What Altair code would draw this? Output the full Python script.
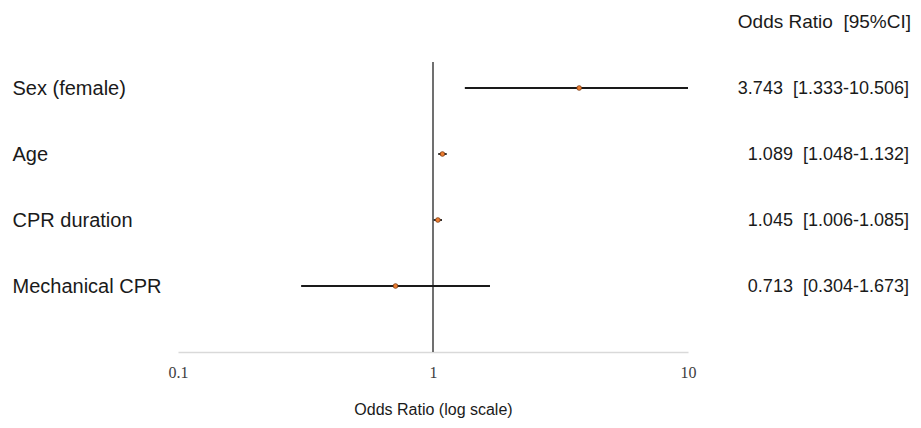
import altair as alt
import pandas as pd

labels = ["Sex (female)", "Age", "CPR duration", "Mechanical CPR"]
odds = [3.743, 1.089, 1.045, 0.713]
lower = [1.333, 1.048, 1.006, 0.304]
upper = [10.506, 1.132, 1.085, 1.673]
header_text = "Odds Ratio\u00a0\u00a0[95%CI]"
x_ticks = [0.1, 1, 10]
x_title = "Odds Ratio (log scale)"

row_domain = ["__hdr"] + labels + ["__end"]

df = pd.DataFrame({
    "label": labels,
    "or": odds,
    "lo": lower,
    "hi": upper,
    "txt": [f"{o:.3f}\u00a0\u00a0[{l:.3f}-{h:.3f}]" for o, l, h in zip(odds, lower, upper)],
})

FONT = "Liberation Sans"

xscale = alt.Scale(type="log", domain=[0.1, 10], clamp=True)
yscale = alt.Scale(type="point", domain=row_domain, padding=0)

base = alt.Chart(df)

ci = base.mark_rule(color="#1a1a1a", strokeWidth=1.8).encode(
    x=alt.X("lo:Q", scale=xscale,
            axis=alt.Axis(values=x_ticks, title=x_title, grid=False, ticks=False, tickSize=0,
                          domainColor="#d9d9d9", domainWidth=1.5, labelFlush=False,
                          labelFont="Liberation Serif", labelFontSize=16, labelColor="#404040",
                          labelPadding=12, labelExpr="datum.value == 0.1 ? '0.1' : datum.value == 1 ? '1' : '10'",
                          titleFont=FONT, titleFontSize=16, titleFontWeight="normal",
                          titleColor="#1a1a1a", titlePadding=21)),
    x2="hi:Q",
    y=alt.Y("label:N", scale=yscale,
            axis=alt.Axis(values=labels, title=None, domain=False, ticks=False, tickSize=0,
                          labelAlign="left", labelPadding=166, labelFont=FONT, labelFontSize=20,
                          labelColor="#1a1a1a", labelLimit=300)),
)

ref = alt.Chart(pd.DataFrame({"v": [1]})).mark_rule(color="#404040", strokeWidth=1.5).encode(
    x=alt.X("v:Q", scale=xscale),
    y=alt.value(40),
    y2=alt.value(330),
)

pts = base.mark_point(shape="circle", filled=True, size=22, color="#ED7D31",
                      stroke="#7a3a10", strokeWidth=0.8, opacity=1).encode(
    x=alt.X("or:Q", scale=xscale),
    y=alt.Y("label:N", scale=yscale),
)

vals = base.mark_text(align="right", baseline="middle", font=FONT, fontSize=18,
                      color="#1a1a1a", dy=1).encode(
    x=alt.value(731),
    y=alt.Y("label:N", scale=yscale),
    text="txt:N",
)

hdr = alt.Chart(pd.DataFrame({"t": [header_text]})).mark_text(
    align="right", baseline="middle", font=FONT, fontSize=19, color="#1a1a1a").encode(
    x=alt.value(733),
    y=alt.value(0),
    text="t:N",
)

chart = alt.layer(ref, ci, pts, vals, hdr).properties(
    width=510, height=330,
    background="white",
    autosize=alt.AutoSizeParams(type="none"),
    padding={"left": 170, "top": 14, "right": 225, "bottom": 66},
).configure_view(strokeWidth=0, stroke="transparent")

chart.save("out.html", embed_options={"renderer": "svg", "actions": False})
